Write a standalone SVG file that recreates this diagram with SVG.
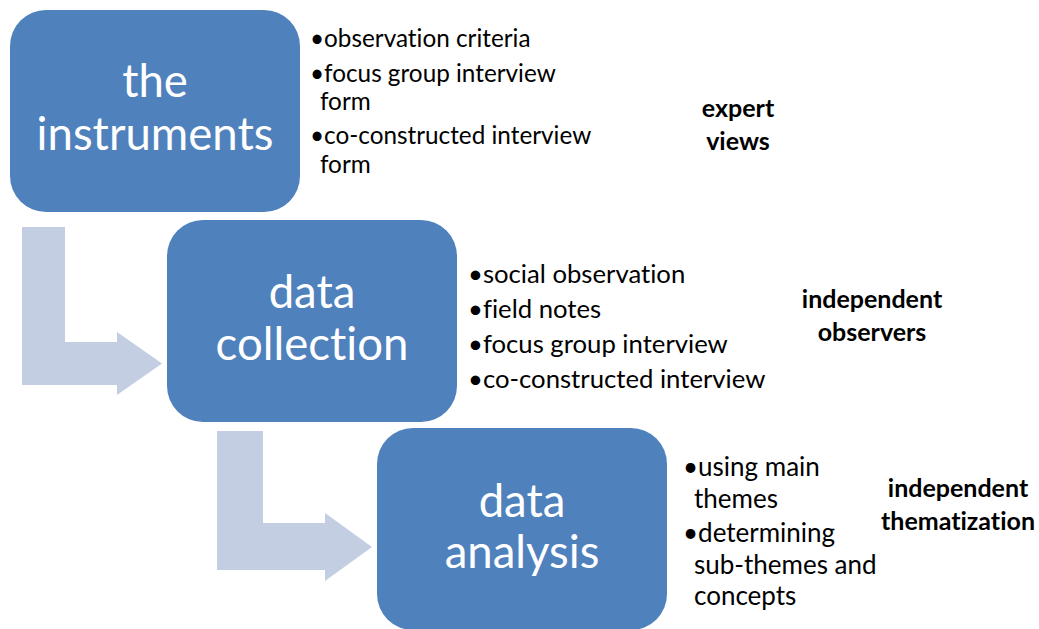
<svg xmlns="http://www.w3.org/2000/svg" width="1039" height="629" viewBox="0 0 1039 629">
<style>
.box{fill:#4F81BD;}
.arrow{fill:#C3CEE3;}
text{font-family:Lato,"Liberation Sans",sans-serif;font-variant-ligatures:none;font-feature-settings:"liga" 0,"dlig" 0;}
.lbl{font-size:45.5px;fill:#FFFFFF;text-anchor:middle;}
.b1{font-size:24.3px;fill:#000000;}
.b2{font-size:25.7px;fill:#000000;}
.b3{font-size:26px;fill:#000000;}
.note{font-size:25px;font-weight:bold;fill:#000000;text-anchor:middle;}
</style>
<rect width="1039" height="629" fill="#FFFFFF"/>
<g id="connectors">
<path class="arrow" d="M22,227 H65 V342 H117 V332 L162,363.5 L117,395 V385 H22 Z"/>
<path class="arrow" d="M217,431 H263 V523 H325 V513 L372,547 L325,581 V570 H217 Z"/>
</g>
<g id="node-instruments">
<rect class="box" x="10" y="10" width="290" height="202" rx="36" ry="36"/>
<text class="lbl" x="155" y="97">the</text>
<text class="lbl" x="155" y="150">instruments</text>
<text class="b1" x="310" y="47">•observation criteria</text>
<text class="b1" x="310" y="82">•focus group interview</text>
<text class="b1" x="320" y="110">form</text>
<text class="b1" x="310" y="144">•co-constructed interview</text>
<text class="b1" x="320" y="173">form</text>
<text class="note" x="738" y="117">expert</text>
<text class="note" x="738" y="150">views</text>
</g>
<g id="node-collection">
<rect class="box" x="167" y="220" width="290" height="202" rx="36" ry="36"/>
<text class="lbl" x="312" y="308">data</text>
<text class="lbl" x="312" y="360">collection</text>
<text class="b2" x="468" y="283">•social observation</text>
<text class="b2" x="468" y="318">•field notes</text>
<text class="b2" x="468" y="353">•focus group interview</text>
<text class="b2" x="468" y="388">•co-constructed interview</text>
<text class="note" x="872" y="308">independent</text>
<text class="note" x="872" y="341">observers</text>
</g>
<g id="node-analysis">
<rect class="box" x="377" y="428" width="290" height="202" rx="36" ry="36"/>
<text class="lbl" x="522" y="517">data</text>
<text class="lbl" x="522" y="568">analysis</text>
<text class="b3" x="683" y="476">•using main</text>
<text class="b3" x="694" y="508">themes</text>
<text class="b3" x="683" y="542">•determining</text>
<text class="b3" x="694" y="574">sub-themes and</text>
<text class="b3" x="694" y="605">concepts</text>
<text class="note" x="958" y="497">independent</text>
<text class="note" x="958" y="530">thematization</text>
</g>
</svg>
